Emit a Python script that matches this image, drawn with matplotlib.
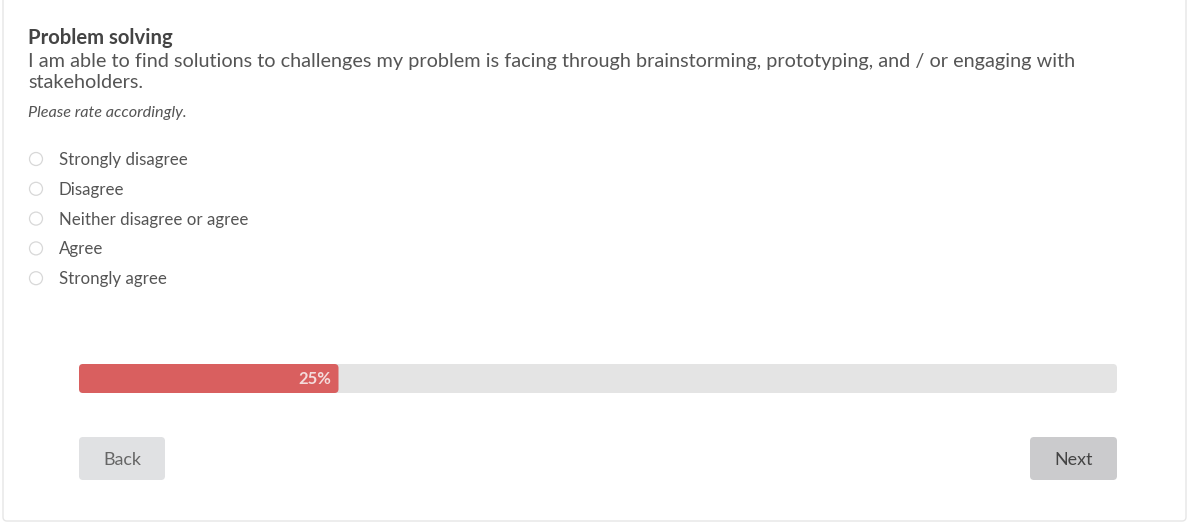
import matplotlib
matplotlib.use("Agg")
import matplotlib.pyplot as plt
from matplotlib.patches import FancyBboxPatch, Circle

plt.rcParams['font.family'] = ['Lato', 'DejaVu Sans']

title = "Problem solving"
question = ["I am able to find solutions to challenges my problem is facing through brainstorming, prototyping, and / or engaging with",
            "stakeholders."]
hint = "Please rate accordingly."
options = ["Strongly disagree", "Disagree", "Neither disagree or agree", "Agree", "Strongly agree"]
progress = 25
buttons = ["Back", "Next"]

W, H = 1188, 523
fig = plt.figure(figsize=(W / 100, H / 100), dpi=100)
ax = fig.add_axes([0, 0, 1, 1])
ax.set_xlim(0, W)
ax.set_ylim(H, 0)
ax.axis("off")

def box(x0, y0, x1, y1, color, r=4, ec="none", lw=0, z=1):
    p = FancyBboxPatch((x0 + r, y0 + r), x1 - x0 - 2 * r, y1 - y0 - 2 * r,
                       boxstyle="round,pad=%g" % r, fc=color, ec=ec, lw=lw, zorder=z)
    ax.add_patch(p)

# card
box(3, -10, 1186, 521, "white", r=4, ec="#e6e6e6", lw=1, z=0)

ax.text(28, 38, title, fontsize=14.6, fontweight="bold", color="#444444", va="center", ha="left")
for i, line in enumerate(question):
    ax.text(28, 61 + i * 22, line, fontsize=14.3, color="#555555", va="center", ha="left")
ax.text(28, 113.5, hint, fontsize=11.7, style="italic", color="#555555", va="center", ha="left")

for i, opt in enumerate(options):
    y = 159 + i * 29.8
    ax.add_patch(Circle((36, y), 6.5, fc="white", ec="#d8d8d8", lw=0.9, zorder=2))
    ax.text(59, y + 1, opt, fontsize=12.2, color="#555555", va="center", ha="left")

# progress bar
x0, x1 = 79, 1117
box(x0, 364, x1, 393, "#e4e4e4", r=4)
xf = x0 + (x1 - x0) * progress / 100
box(x0, 364, xf, 393, "#d95f5f", r=4, z=2)
ax.text(xf - 7, 379.5, "%d%%" % progress, fontsize=12, fontweight="bold", color="#f4dcdc",
        va="center", ha="right", zorder=3)

# buttons
box(79, 437, 165, 480, "#e0e1e3", r=4)
ax.text(122, 460, buttons[0], fontsize=12.9, color="#666666", va="center", ha="center")
box(1030, 437, 1117, 480, "#cbcbcd", r=4)
ax.text(1073.5, 460, buttons[1], fontsize=12.9, color="#444444", va="center", ha="center")

fig.savefig("out.png", dpi=100)
